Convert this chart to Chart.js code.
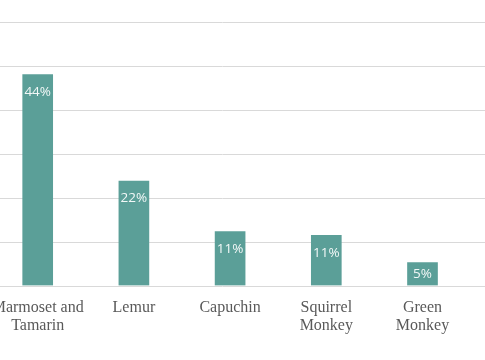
<!DOCTYPE html>
<html>
<head>
<meta charset="utf-8">
<script src="https://cdn.jsdelivr.net/npm/chart.js@4/dist/chart.umd.min.js"></script>
<style>
  html, body { margin: 0; padding: 0; overflow: hidden; background: #fff; }
  body { width: 485px; height: 360px; position: relative; }
  #myChart { position: absolute; left: -40px; top: 0; }
</style>
</head>
<body>
<canvas id="myChart" width="525" height="360"></canvas>
<script>
const species = [['Marmoset and', 'Tamarin'], 'Lemur', 'Capuchin', ['Squirrel', 'Monkey'], ['Green', 'Monkey']]
const counts = [48, 23.8, 12.3, 11.4, 5.2]
const shares = ['44%', '22%', '11%', '11%', '5%']
const yTicks = [0, 10, 20, 30, 40, 50, 60]

// gridlines run past the plot edges in the picture, so draw them across the whole canvas
const fullGrid = {
    id: 'fullGrid',
    beforeDatasetsDraw(chart) {
        const ctx = chart.ctx
        const y = chart.scales.y
        ctx.save()
        ctx.strokeStyle = '#d9d9d9'
        ctx.lineWidth = 1
        yTicks.forEach(v => {
            const py = Math.round(y.getPixelForValue(v)) + 0.5
            ctx.beginPath()
            ctx.moveTo(0, py)
            ctx.lineTo(chart.width, py)
            ctx.stroke()
        })
        ctx.restore()
    }
}

// label sits just inside the bar end, or in the middle when the bar is short
const barLabels = {
    id: 'barLabels',
    afterDatasetsDraw(chart) {
        const ctx = chart.ctx
        const meta = chart.getDatasetMeta(0)
        ctx.save()
        ctx.font = '13.5px "Open Sans"'
        ctx.fillStyle = 'rgba(255,255,255,0.92)'
        ctx.textAlign = 'center'
        ctx.textBaseline = 'middle'
        meta.data.forEach((bar, i) => {
            const off = Math.min(17.5, (bar.base - bar.y) / 2)
            ctx.fillText(shares[i], bar.x, bar.y + off)
        })
        ctx.restore()
    }
}

let myChart = document.getElementById('myChart').getContext('2d')
let primateChart = new Chart(myChart, {
    type: 'bar',
    data: {
        labels: species,
        datasets: [{
            data: counts,
            backgroundColor: '#5b9f98',
            borderWidth: 0,
            barThickness: 30
        }]
    },
    options: {
        responsive: false,
        animation: false,
        layout: {
            padding: { left: 29.6, right: 14.4, top: 22, bottom: 0 }
        },
        plugins: {
            legend: { display: false },
            tooltip: { enabled: false }
        },
        scales: {
            x: {
                grid: { display: false },
                border: { display: false },
                ticks: {
                    color: '#595959',
                    padding: 5,
                    maxRotation: 0,
                    autoSkip: false,
                    font: { family: '"Liberation Serif"', size: 16, lineHeight: 1.15 }
                },
                afterFit: s => { s.height = 74.5 }
            },
            y: {
                min: 0,
                max: 60,
                grid: { display: false },
                border: { display: false },
                ticks: { display: false, stepSize: 10 },
                afterFit: s => { s.width = 0 }
            }
        }
    },
    plugins: [fullGrid, barLabels]
})
</script>
</body>
</html>
